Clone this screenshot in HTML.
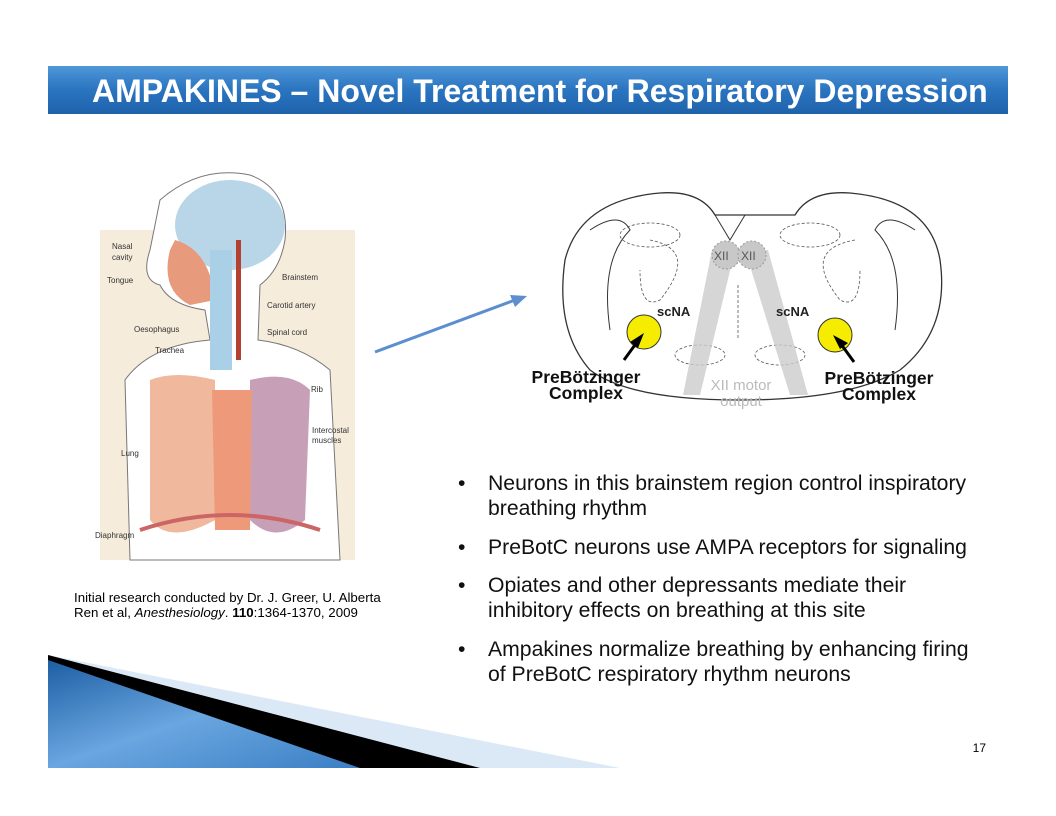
<!DOCTYPE html>
<html><head><style>
body{margin:0;width:1056px;height:816px;background:#fff;position:relative;overflow:hidden;font-family:"Liberation Sans",sans-serif}
.hdr{position:absolute;left:48px;top:66px;width:960px;height:48px;background:linear-gradient(180deg,#4f97d8 0%,#2a74c0 50%,#1f62ab 100%);}
.hdr span{position:absolute;left:44px;top:7px;color:#fff;font-weight:bold;font-size:32px;white-space:nowrap}
.b{position:absolute;left:458px;font-size:21.2px;color:#111;line-height:25px;white-space:nowrap}
.b i{position:absolute;left:0;font-style:normal}
.b div{margin-left:30px}
.cite{position:absolute;left:74px;top:590px;font-size:13.3px;line-height:15px;color:#000;white-space:nowrap}
</style></head><body>
<div class="hdr"><span>AMPAKINES – Novel Treatment for Respiratory Depression</span></div>

<svg width="1056" height="816" style="position:absolute;left:0;top:0">
<defs>
<linearGradient id="g1" x1="0" y1="0" x2="1" y2="1"><stop offset="0" stop-color="#1d5fa4"/><stop offset="0.5" stop-color="#6aa6e0"/><stop offset="1" stop-color="#3a7fc4"/></linearGradient>
</defs>
<polygon points="48,768 620,768 48,655" fill="#dbe8f5"/>
<polygon points="48,768 480,768 48,655" fill="#000"/>
<polygon points="48,768 360,768 48,660" fill="url(#g1)"/>
<line x1="375" y1="352" x2="515" y2="300" stroke="#5b8fd0" stroke-width="3"/>
<polygon points="527,296 510,295 515,307" fill="#5b8fd0"/>
<rect x="100" y="230" width="255" height="330" fill="#f6ecdc"/>
<path d="M160,200 Q200,165 250,175 Q290,190 285,240 Q280,270 260,285 L258,340 Q300,345 330,370 L340,560 L130,560 L125,380 Q150,345 210,340 L205,310 Q170,305 160,285 Q140,280 150,250 Z" fill="#fff" stroke="#777" stroke-width="1"/>
<ellipse cx="230" cy="225" rx="55" ry="45" fill="#b8d6e8"/>
<path d="M175,240 Q210,250 215,300 L190,305 Q160,290 170,250Z" fill="#e89a7c"/>
<rect x="210" y="250" width="22" height="120" fill="#a9d0e6"/>
<rect x="236" y="240" width="5" height="120" fill="#b34030"/>
<path d="M150,380 Q175,370 215,380 L215,520 Q170,545 150,520Z" fill="#f0b89c"/>
<path d="M250,380 Q290,370 310,390 L305,520 Q275,545 250,520Z" fill="#c7a0b8"/>
<path d="M212,390 L252,390 L250,530 L215,530Z" fill="#ee9a7a"/>
<path d="M140,530 Q230,500 320,530" stroke="#c66" stroke-width="4" fill="none"/>
<g font-size="8" fill="#333">
<text x="112" y="249">Nasal</text><text x="112" y="260">cavity</text><text x="107" y="283">Tongue</text>
<text x="134" y="332">Oesophagus</text><text x="155" y="353">Trachea</text>
<text x="282" y="280">Brainstem</text><text x="267" y="308">Carotid artery</text><text x="267" y="335">Spinal cord</text>
<text x="311" y="392">Rib</text><text x="312" y="433">Intercostal</text><text x="312" y="443">muscles</text>
<text x="121" y="456">Lung</text><text x="95" y="538">Diaphragm</text>
</g>
<path d="M565,260 Q580,200 660,193 Q700,190 715,215 L795,215 Q810,190 850,193 Q930,200 940,260 Q950,330 900,370 Q850,400 740,400 Q630,400 590,370 Q555,330 565,260Z" fill="#fff" stroke="#333" stroke-width="1.3"/>
<path d="M590,230 Q620,210 630,230 Q600,260 610,330" fill="none" stroke="#333"/>
<path d="M915,230 Q885,210 875,230 Q905,260 895,330" fill="none" stroke="#333"/>
<path d="M715,215 L730,240 L745,215" fill="none" stroke="#333"/>
<g fill="none" stroke="#555" stroke-dasharray="3,2" stroke-width="0.8">
<ellipse cx="650" cy="235" rx="30" ry="12"/><ellipse cx="810" cy="235" rx="30" ry="12"/>
<path d="M650,240 Q700,250 660,300 Q640,310 640,270"/><path d="M855,240 Q800,250 840,300 Q860,310 860,270"/>
<ellipse cx="700" cy="355" rx="25" ry="10"/><ellipse cx="780" cy="355" rx="25" ry="10"/>
<line x1="738" y1="285" x2="738" y2="340"/>
</g>
<polygon points="712,250 735,250 700,395 683,395" fill="#ccc" opacity="0.8"/>
<polygon points="745,250 768,250 808,395 790,395" fill="#ccc" opacity="0.8"/>
<circle cx="726" cy="255" r="14" fill="#c8c8c8" stroke="#999" stroke-dasharray="2,2"/>
<circle cx="752" cy="255" r="14" fill="#c8c8c8" stroke="#999" stroke-dasharray="2,2"/>
<text x="714" y="260" font-size="12" fill="#555">XII</text><text x="741" y="260" font-size="12" fill="#555">XII</text>
<circle cx="644" cy="332" r="17" fill="#f5ec00" stroke="#333"/>
<circle cx="835" cy="335" r="17" fill="#f5ec00" stroke="#333"/>
<line x1="640" y1="338" x2="624" y2="360" stroke="#000" stroke-width="3"/>
<polygon points="644,333 630,342 638,348" fill="#000"/>
<line x1="838" y1="340" x2="854" y2="362" stroke="#000" stroke-width="3"/>
<polygon points="833,335 840,349 848,343" fill="#000"/>
<text x="657" y="316" font-size="13" font-weight="bold" fill="#222">scNA</text>
<text x="776" y="316" font-size="13" font-weight="bold" fill="#222">scNA</text>
<g font-size="17.5" text-anchor="middle" fill="#111" font-weight="bold"><text x="586" y="383">PreBötzinger</text><text x="586" y="399">Complex</text>
<text x="879" y="384">PreBötzinger</text><text x="879" y="400">Complex</text></g>
<g font-size="15" text-anchor="middle" fill="#bbb"><text x="741" y="390">XII motor</text><text x="741" y="406">output</text></g>
<text x="986" y="752" font-size="12" text-anchor="end" fill="#000">17</text>
</svg>

<div class="cite">Initial research conducted by Dr. J. Greer, U. Alberta<br>Ren et al, <i>Anesthesiology</i>. <b>110</b>:1364-1370, 2009</div>
<div class="b" style="top:471px"><i>•</i><div>Neurons in this brainstem region control inspiratory<br>breathing rhythm</div></div>
<div class="b" style="top:535px"><i>•</i><div>PreBotC neurons use AMPA receptors for signaling</div></div>
<div class="b" style="top:573px"><i>•</i><div>Opiates and other depressants mediate their<br>inhibitory effects on breathing at this site</div></div>
<div class="b" style="top:637px"><i>•</i><div>Ampakines normalize breathing by enhancing firing<br>of PreBotC respiratory rhythm neurons</div></div>
</body></html>
